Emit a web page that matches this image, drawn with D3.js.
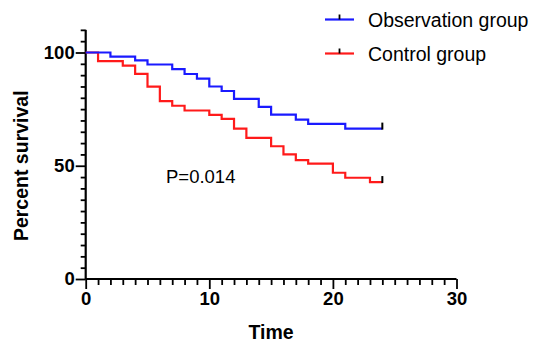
<!DOCTYPE html>
<html><head><meta charset="utf-8">
<script src="https://cdn.jsdelivr.net/npm/d3@7"></script>
<style>html,body{margin:0;padding:0;background:#fff;}svg{display:block;}</style>
</head><body>
<svg id="chart" width="533" height="343"></svg>
<script>
const seriesNames = ["Observation group", "Control group"];
const seriesColors = ["#1a1aff", "#ff1a1a"];
const obsTimes = [0, 2, 4, 5, 7, 8, 9, 10, 11, 12, 14, 15, 17, 18, 21, 24];
const obsValues = [100, 98.2, 96.5, 94.7, 92.7, 90.5, 88.5, 85, 83, 79.5, 76, 72.6, 70.4, 68.5, 66.4, 66.4];
const ctlTimes = [0, 1, 3, 4, 5, 6, 7, 8, 10, 11, 12, 13, 15, 16, 17, 18, 20, 21, 23, 24];
const ctlValues = [100, 96.2, 94.2, 90.6, 84.9, 78.5, 76.5, 74.4, 72.5, 70.7, 66.4, 62.3, 58.6, 55, 52.5, 50.9, 46.9, 44.7, 42.8, 42.8];
const xMajorTicks = [0, 10, 20, 30];
const yMajorTicks = [0, 50, 100];
const pText = "P=0.014";

const svg = d3.select("#chart");
const x = d3.scaleLinear().domain([0, 30]).range([85.7, 456.5]);
const y = d3.scaleLinear().domain([0, 110]).range([279, 29.85]);
const font = "'Liberation Sans', Arial, Helvetica, sans-serif";

const xMinor = d3.range(0, 31).filter(v => v % 10 !== 0);
const yMinor = d3.range(0, 111, 5).filter(v => v % 50 !== 0);

// minor ticks
const gxm = svg.append("g").attr("transform", `translate(0,${y(0)})`)
  .call(d3.axisBottom(x).tickValues(xMinor).tickSize(6).tickFormat(""));
const gym = svg.append("g").attr("transform", `translate(${x(0)},0)`)
  .call(d3.axisLeft(y).tickValues(yMinor).tickSize(5).tickFormat(""));
// major ticks
const gx = svg.append("g").attr("transform", `translate(0,${y(0)})`)
  .call(d3.axisBottom(x).tickValues(xMajorTicks).tickSize(10).tickPadding(3).tickFormat(d3.format("d")));
const gy = svg.append("g").attr("transform", `translate(${x(0)},0)`)
  .call(d3.axisLeft(y).tickValues(yMajorTicks).tickSize(10).tickPadding(1).tickFormat(d3.format("d")));

[gxm, gym, gx, gy].forEach(g => {
  g.select(".domain").attr("stroke", "#000").attr("stroke-width", 2).attr("d", null);
  g.selectAll(".tick line").attr("stroke", "#000").attr("stroke-width", 1.8);
  g.selectAll(".tick text").attr("fill", "#000").style("font-family", font)
    .style("font-size", "18.5px").style("font-weight", "bold");
});
gxm.select(".domain").remove(); gym.select(".domain").remove();
gx.select(".domain").remove(); gy.select(".domain").remove();
// axis lines
svg.append("line").attr("x1", x(0)).attr("x2", x(30)).attr("y1", y(0)).attr("y2", y(0))
  .attr("stroke", "#000").attr("stroke-width", 2.2);
svg.append("line").attr("x1", x(0)).attr("x2", x(0)).attr("y1", y(0)).attr("y2", y(110))
  .attr("stroke", "#000").attr("stroke-width", 2.2);

// axis titles
svg.append("text").attr("x", (x(0) + x(30)) / 2).attr("y", 339)
  .attr("text-anchor", "middle").style("font-family", font).style("font-size", "19.5px")
  .style("font-weight", "bold").text("Time");
svg.append("text").attr("transform", `translate(28,${y(50)}) rotate(-90)`)
  .attr("text-anchor", "middle").style("font-family", font).style("font-size", "19.5px")
  .style("font-weight", "bold").text("Percent survival");

// curves
const data = [
  obsTimes.map((t, i) => [t, obsValues[i]]),
  ctlTimes.map((t, i) => [t, ctlValues[i]])
];
const line = d3.line().x(d => x(d[0])).y(d => y(d[1])).curve(d3.curveStepAfter);
// draw red first then blue on top
[1, 0].forEach(i => {
  svg.append("path").datum(data[i]).attr("d", line).attr("fill", "none")
    .attr("stroke", seriesColors[i]).attr("stroke-width", 2.2);
});
// censor marks at the end
data.forEach(d => {
  const last = d[d.length - 1];
  svg.append("line").attr("x1", x(last[0])).attr("x2", x(last[0]))
    .attr("y1", y(last[1]) + 1).attr("y2", y(last[1]) - 6)
    .attr("stroke", "#000").attr("stroke-width", 2);
});

// p value
svg.append("text").attr("x", 166).attr("y", 183).style("font-family", font)
  .style("font-size", "18.5px").text(pText);

// legend
const legY = [19.5, 53.5];
const legBase = [27, 61];
seriesNames.forEach((name, i) => {
  svg.append("line").attr("x1", 325).attr("x2", 354).attr("y1", legY[i]).attr("y2", legY[i])
    .attr("stroke", seriesColors[i]).attr("stroke-width", 2.2);
  svg.append("line").attr("x1", 339.5).attr("x2", 339.5).attr("y1", legY[i]).attr("y2", legY[i] - 5)
    .attr("stroke", "#000").attr("stroke-width", 1.8);
  svg.append("text").attr("x", 368).attr("y", legBase[i]).style("font-family", font)
    .style("font-size", "19.5px").text(name);
});
</script>
</body></html>
